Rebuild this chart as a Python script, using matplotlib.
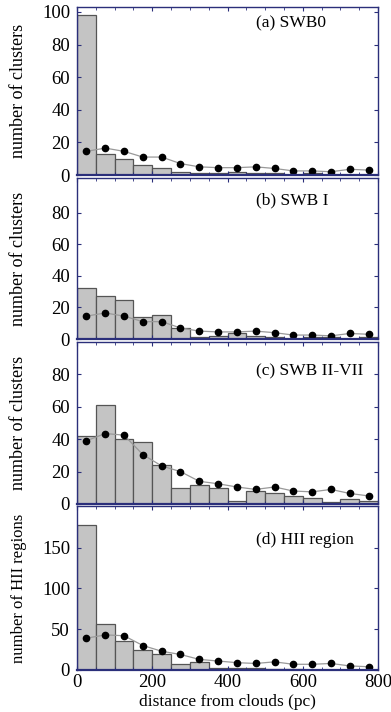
import matplotlib.pyplot as plt
import numpy as np
from matplotlib.ticker import MultipleLocator

plt.rcParams["font.family"] = ["Liberation Serif", "DejaVu Serif"]
plt.rcParams["font.size"] = 11

# bin edges in pc (50 pc bins), points sit at bin centres
bin_edges = np.arange(0, 801, 50)
bin_centres = bin_edges[:-1] + 25

swb0_counts = [98, 13, 10, 6, 4, 2, 1, 1, 2, 1, 1, 0, 1, 0, 0, 0]
swb1_counts = [32, 27, 25, 14, 15, 7, 1, 2, 4, 2, 1, 0, 1, 1, 0, 1]
swb27_counts = [42, 61, 40, 38, 24, 10, 12, 10, 2, 8, 7, 5, 4, 1, 3, 2]
hii_counts = [178, 56, 35, 25, 20, 7, 10, 3, 3, 2, 1, 1, 0, 0, 0, 0]

# random-position expectation (dots)
random_small = [14.5, 16.5, 14.5, 11, 11, 7, 5, 4.5, 4.5, 5, 4, 2.5, 2.5, 2, 3.5, 3]
random_swb27 = [39, 43.5, 42.5, 30.5, 23.5, 20, 14, 12.5, 10.5, 9, 10.5, 8, 7.5, 9, 6.5, 5]
random_hii = [39, 43, 42, 30, 23, 19, 13, 11, 9, 8, 10, 7, 7, 8, 5, 4]

panels = [
    ("(a) SWB0", swb0_counts, random_small, 103, [0, 20, 40, 60, 80, 100], "number of clusters", 0.90, 13),
    ("(b) SWB I", swb1_counts, random_small, 102, [0, 20, 40, 60, 80], "number of clusters", 0.86, 13),
    ("(c) SWB II-VII", swb27_counts, random_swb27, 100, [0, 20, 40, 60, 80], "number of clusters", 0.82, 13),
    ("(d) HII region", hii_counts, random_hii, 201, [0, 50, 100, 150], "number of HII regions", 0.79, 12),
]

W, H = 391, 712
rows = [(7, 175), (178, 339), (342, 504), (506, 670)]
left, right = 77, 378
frame = "#2b2f7a"

fig = plt.figure(figsize=(W / 100, H / 100), dpi=100)

for (label, counts, rnd, ymax, yticks, ylabel, ty, ylsize), (top, bot) in zip(panels, rows):
    ax = fig.add_axes([left / W, 1 - bot / H, (right - left) / W, (bot - top) / H])
    ax.bar(bin_centres, counts, width=50, color="#c4c4c4", edgecolor="#555555", linewidth=0.9)
    ax.plot(bin_centres, rnd, color="#999999", linewidth=0.9, marker="o",
            markersize=4.5, markerfacecolor="black", markeredgecolor="black")
    ax.set_xlim(0, 800)
    ax.set_ylim(0, ymax)
    ax.set_yticks(yticks)
    ax.xaxis.set_major_locator(MultipleLocator(200))
    ax.xaxis.set_minor_locator(MultipleLocator(50))
    ax.tick_params(which="both", direction="in", top=True, right=True, color=frame)
    ax.tick_params(which="major", length=3, width=0.8, labelsize=13.5, pad=5)
    ax.tick_params(which="minor", length=2, width=0.6)
    for s in ax.spines.values():
        s.set_color(frame)
        s.set_linewidth(1.0)
    ax.spines["bottom"].set_linewidth(1.6)
    ax.set_ylabel(ylabel, fontsize=ylsize)
    ax.yaxis.set_label_coords(-0.165, 0.5)
    ax.text(476, ty * ymax, label, fontsize=12.5, ha="left", va="center")
    if label.startswith("(d)"):
        ax.set_xlabel("distance from clouds (pc)", fontsize=12.5, labelpad=2)
        ax.tick_params(axis="x", pad=3)
    else:
        ax.tick_params(axis="x", labelbottom=False)

fig.savefig("out.png", dpi=100)
